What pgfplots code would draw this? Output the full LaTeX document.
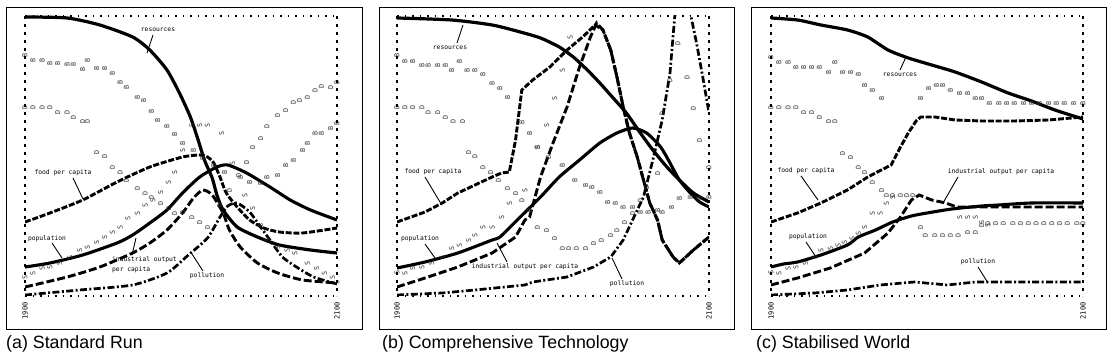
\documentclass[border=0pt]{standalone}
\usepackage{fontspec}
\usepackage{pgfplots}
\pgfplotsset{compat=1.18}
\newfontfamily\capfont{Liberation Sans}
\newfontfamily\labfont{DejaVu Sans Mono}

\pgfplotsset{
  panel/.style={scale only axis, width=312pt, height=280pt,
    xmin=1900, xmax=2100, ymin=0, ymax=280,
    axis lines=none, ticks=none, clip=true, anchor=south west},
  res/.style={black, line width=3.2pt, no marks, smooth, tension=0.4},
  pop/.style={black, line width=3.1pt, no marks, smooth, tension=0.4},
  food/.style={black, line width=2.9pt, no marks, dash pattern=on 6pt off 1.8pt},
  ind/.style={black, line width=2.9pt, no marks, dash pattern=on 8pt off 3pt},
  pol/.style={black, line width=2.7pt, no marks, dash pattern=on 7pt off 2.4pt on 2pt off 2.4pt},
  lett/.style={only marks, mark=text, text mark={#1}, text mark as node=true,
    text mark style={font=\fontsize{6.8}{6.8}\selectfont\labfont, rotate=90, text=black!80, inner sep=0pt}},
}

\begin{document}
\begin{tikzpicture}
\path[use as bounding box] (0,0) rectangle (1119pt,363pt);

%================ (a) Standard Run
\begin{axis}[panel, at={(25pt,67pt)}]
\addplot[res] coordinates {(1900,279) (1927,278) (1948,271) (1969,259) (1980,246) (1991,226) (1999,203) (2006,179) (2011,156) (2015,136) (2020,118) (2023,101) (2027,86) (2036,69) (2049,59) (2063,51) (2083,46) (2100,43)};
\addplot[food, smooth, tension=0.4] coordinates {(1900,74) (1916,83) (1937,96) (1959,114) (1980,129) (2001,139) (2012,141) (2017,139) (2021,133) (2025,119) (2029,103) (2036,89) (2044,76) (2053,68) (2063,64) (2078,63) (2100,68)};
\addplot[pop] coordinates {(1900,29) (1916,33) (1937,41) (1959,53) (1969,61) (1980,73) (1991,86) (2001,103) (2012,119) (2023,129) (2030,131) (2042,123) (2057,109) (2070,96) (2083,86) (2100,76)};
\addplot[ind, smooth, tension=0.4] coordinates {(1900,9) (1927,19) (1948,29) (1969,43) (1980,53) (1991,66) (2001,83) (2008,98) (2014,106) (2020,101) (2027,83) (2031,66) (2038,49) (2049,33) (2062,23) (2078,16) (2100,13)};
\addplot[pol, smooth, tension=0.4] coordinates {(1900,1) (1935,6) (1969,11) (1991,23) (2004,40) (2017,58) (2025,79) (2030,90) (2036,93) (2044,84) (2051,69) (2057,56) (2065,39) (2074,29) (2085,19) (2100,12)};
\addplot[lett=B] coordinates {(1900,241) (1905,236) (1911,236) (1916,233) (1921,233) (1927,232) (1931,232) (1937,227) (1940,236) (1946,228) (1951,228) (1956,223) (1961,214) (1965,209) (1972,199) (1976,196) (1981,185) (1985,176) (1991,170) (1996,162) (2001,153) (2008,146) (2014,138) (2021,131) (2028,124) (2038,119) (2044,114) (2051,113) (2055,119) (2062,121) (2067,131) (2072,136) (2078,146) (2081,153) (2086,163) (2090,163) (2096,168) (2100,173)};
\addplot[lett=D] coordinates {(1900,189) (1905,189) (1911,189) (1916,189) (1921,184) (1927,184) (1931,179) (1937,175) (1940,175) (1946,144) (1951,140) (1956,129) (1961,124) (1965,116) (1972,108) (1977,103) (1981,99) (1987,93) (1992,88) (1996,83) (2001,84) (2007,79) (2012,74) (2017,69) (2025,91) (2031,106) (2037,121) (2042,134) (2046,149) (2051,158) (2055,170) (2062,181) (2067,186) (2072,194) (2076,196) (2081,199) (2086,206) (2090,210) (2096,209) (2100,214)};
\addplot[lett=S] coordinates {(1900,19) (1905,23) (1911,28) (1916,29) (1922,33) (1929,39) (1935,46) (1940,49) (1946,54) (1951,59) (1956,64) (1961,69) (1966,78) (1972,83) (1977,91) (1982,96) (1987,104) (1992,114) (1996,124) (2001,146) (2007,171) (2012,171) (2017,171) (2026,163) (2033,133) (2041,101) (2046,88) (2051,71) (2055,56) (2062,49) (2068,46) (2073,43) (2081,33) (2087,28) (2092,23) (2097,19) (2100,14)};
\end{axis}

%================ (b) Comprehensive Technology
\begin{axis}[panel, at={(397pt,67pt)}]
\addplot[res] coordinates {(1900,278) (1935,276) (1961,271) (1979,264) (1992,258) (2004,249) (2013,239) (2022,226) (2030,213) (2038,199) (2047,183) (2056,163) (2064,146) (2073,129) (2081,116) (2090,103) (2100,94)};
\addplot[food] coordinates {(1900,74) (1918,84) (1929,93) (1939,103) (1950,111) (1961,119) (1967,123) (1972,124) (1976,156) (1980,206) (1987,216) (1998,229) (2009,246) (2019,259) (2027,271) (2032,266) (2037,246) (2041,219) (2045,189) (2049,163) (2054,139) (2058,116) (2062,93) (2067,76) (2070,56) (2077,39) (2081,33) (2090,46) (2100,59)};
\addplot[pop] coordinates {(1900,28) (1918,34) (1939,43) (1961,56) (1966,59) (1979,79) (1992,99) (2004,119) (2017,136) (2030,153) (2041,163) (2051,168) (2060,163) (2069,149) (2075,133) (2081,116) (2088,103) (2094,94) (2100,89)};
\addplot[ind] coordinates {(1900,9) (1918,18) (1939,29) (1961,43) (1976,59) (1982,76) (1985,79) (1992,119) (2000,153) (2009,189) (2017,229) (2024,259) (2028,273) (2032,266) (2037,246) (2041,219) (2045,189) (2049,163) (2054,139) (2058,116) (2062,93) (2067,76) (2070,56) (2077,39) (2081,33) (2090,46) (2100,59)};
\addplot[pol] coordinates {(1900,1) (1929,3) (1950,6) (1982,11) (1987,14) (2009,19) (2026,29) (2037,39) (2045,56) (2051,76) (2058,99) (2064,136) (2070,176) (2075,223) (2078,279) (2083,316) (2088,283) (2092,253) (2096,219) (2100,183)};
\addplot[lett=B] coordinates {(1900,241) (1905,235) (1910,235) (1916,231) (1920,231) (1926,231) (1931,231) (1935,226) (1940,235) (1945,226) (1950,226) (1955,222) (1961,213) (1966,208) (1971,199) (1980,174) (1985,163) (1990,149) (1997,139) (2006,131) (2014,116) (2021,111) (2025,109) (2030,104) (2035,94) (2040,93) (2045,89) (2051,89) (2056,84) (2061,84) (2067,86) (2070,84) (2076,89) (2081,98) (2088,99) (2094,98) (2100,99)};
\addplot[lett=D] coordinates {(1900,189) (1905,189) (1910,189) (1916,189) (1920,184) (1926,184) (1931,179) (1936,175) (1942,175) (1946,144) (1950,140) (1955,129) (1960,124) (1965,116) (1971,108) (1976,103) (1980,96) (1985,86) (1990,69) (1996,66) (2001,58) (2006,48) (2010,48) (2015,48) (2021,48) (2026,53) (2031,56) (2037,61) (2041,66) (2046,74) (2051,83) (2056,96) (2060,109) (2067,123) (2070,183) (2075,216) (2080,253) (2086,219) (2090,188) (2094,156) (2100,129)};
\addplot[lett=S] coordinates {(1900,24) (1905,23) (1910,28) (1916,29) (1922,33) (1929,39) (1935,48) (1940,51) (1946,56) (1950,61) (1955,69) (1961,69) (1967,79) (1972,93) (1982,106) (1990,149) (1996,171) (2001,198) (2006,226) (2011,259)};
\end{axis}

%================ (c) Stabilised World
\begin{axis}[panel, at={(771pt,67pt)}]
\addplot[res] coordinates {(1900,278) (1917,276) (1932,271) (1949,266) (1962,259) (1975,246) (1988,238) (2003,231) (2018,224) (2035,214) (2052,203) (2067,195) (2082,186) (2100,177)};
\addplot[food] coordinates {(1900,74) (1917,83) (1932,93) (1949,106) (1962,119) (1977,131) (1983,149) (1988,163) (1993,175) (1996,179) (2005,179) (2018,176) (2035,175) (2056,175) (2078,176) (2100,179)};
\addplot[pop] coordinates {(1900,29) (1908,32) (1917,34) (1932,41) (1949,51) (1956,59) (1967,66) (1978,74) (1990,80) (2000,83) (2016,87) (2035,90) (2046,91) (2067,93) (2100,93)};
\addplot[ind] coordinates {(1900,11) (1917,18) (1938,28) (1960,43) (1975,63) (1983,79) (1990,96) (1995,101) (2003,96) (2012,93) (2019,89) (2046,89) (2067,89) (2100,89)};
\addplot[pol] coordinates {(1900,1) (1928,3) (1949,6) (1970,11) (1992,14) (2013,11) (2031,14) (2046,14) (2067,14) (2100,14)};
\addplot[lett=B] coordinates {(1900,239) (1905,234) (1911,234) (1916,229) (1921,229) (1926,229) (1931,229) (1937,224) (1941,234) (1946,224) (1951,224) (1956,222) (1960,211) (1965,206) (1971,198) (1996,198) (2001,208) (2006,211) (2010,211) (2015,206) (2021,203) (2026,203) (2031,198) (2035,198) (2040,193) (2046,193) (2051,193) (2056,193) (2062,193) (2067,193) (2072,193) (2078,193) (2083,193) (2088,193) (2094,193) (2100,193)};
\addplot[lett=D] coordinates {(1900,189) (1905,189) (1911,189) (1916,189) (1921,184) (1926,184) (1931,179) (1937,175) (1941,175) (1946,143) (1951,139) (1956,129) (1960,124) (1965,114) (1971,106) (1974,101) (1978,101) (1983,101) (1987,101) (1991,101) (1996,69) (1999,61) (2005,61) (2010,61) (2015,61) (2020,61) (2026,64) (2031,64) (2035,71) (2039,73) (2044,73) (2049,73) (2055,73) (2060,73) (2065,73) (2070,73) (2075,73) (2080,73) (2085,73) (2090,73) (2096,73) (2100,73)};
\addplot[lett=S] coordinates {(1900,24) (1905,23) (1911,28) (1916,29) (1922,33) (1928,39) (1932,46) (1938,48) (1943,51) (1947,54) (1952,58) (1956,63) (1960,69) (1965,83) (1970,83) (1974,93) (1978,99) (2021,79) (2026,79) (2031,79) (2035,74) (2039,71)};
\end{axis}

%================ frames, borders, labels
\begin{scope}[x=1pt, y=-1pt, yshift=363pt]
  \tikzset{lab/.style={font=\fontsize{6.3}{7.5}\selectfont\labfont, inner sep=0pt},
           yr/.style={font=\fontsize{7}{7}\selectfont\labfont, inner sep=0pt, rotate=90},
           ldr/.style={line width=0.9pt},
           hb/.style={line width=1.5pt, dash pattern=on 1.5pt off 6pt},
           vb/.style={line width=1.3pt, dash pattern=on 3pt off 5pt},
           capt/.style={anchor=base west, inner sep=0pt, font=\capfont\fontsize{17.8}{20}\selectfont}}
  \draw[line width=0.9pt] (6,7) rectangle (362,329);
  \draw[line width=0.9pt] (379,7) rectangle (734,329);
  \draw[line width=0.9pt] (751,7) rectangle (1106,329);
  \foreach \x in {25,397,771}{
    \draw[hb] (\x,16) -- ++(312,0);
    \draw[hb] (\x,296) -- ++(312,0);
    \draw[vb] (\x,16) -- (\x,296);
    \draw[vb] (\x+312,16) -- (\x+312,296);
    \node[yr] at (\x,311) {1900};
    \node[yr] at (\x+312,311) {2100};
  }
  \node[capt] at (6,349) {(a) Standard Run};
  \node[capt] at (382,349) {(b) Comprehensive Technology};
  \node[capt] at (756,349) {(c) Stabilised World};
  % labels (a)
  \node[lab] at (158,30) {resources};
  \draw[ldr] (153,35) -- (147,53);
  \node[lab] at (63,173) {food per capita};
  \draw[ldr] (73,178) -- (83,199);
  \node[lab] at (47,239) {population};
  \draw[ldr] (52,243) -- (62,258);
  \node[lab, anchor=west] at (112,260) {industrial output};
  \node[lab, anchor=west] at (112,270) {per capita};
  \draw[ldr] (132,255) -- (136,238);
  \node[lab] at (207,276) {pollution};
  \draw[ldr] (203,271) -- (192,254);
  % labels (b)
  \node[lab] at (450,48) {resources};
  \draw[ldr] (457,43) -- (463,25);
  \node[lab] at (433,172) {food per capita};
  \draw[ldr] (425,177) -- (440,202);
  \node[lab] at (420,239) {population};
  \draw[ldr] (425,244) -- (435,258);
  \node[lab] at (525,267) {industrial output per capita};
  \draw[ldr] (507,262) -- (497,243);
  \node[lab] at (627,284) {pollution};
  \draw[ldr] (622,279) -- (612,258);
  % labels (c)
  \node[lab] at (900,75) {resources};
  \draw[ldr] (900,70) -- (906,57);
  \node[lab] at (806,171) {food per capita};
  \draw[ldr] (801,176) -- (818,200);
  \node[lab] at (1001,172) {industrial output per capita};
  \draw[ldr] (958,177) -- (943,203);
  \node[lab] at (808,237) {population};
  \draw[ldr] (806,242) -- (816,257);
  \node[lab] at (978,262) {pollution};
  \draw[ldr] (978,267) -- (988,283);
\end{scope}
\end{tikzpicture}
\end{document}
